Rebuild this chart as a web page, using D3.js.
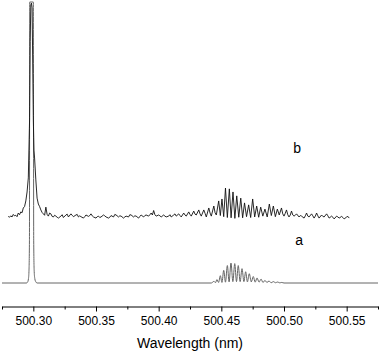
<!doctype html>
<html lang="en">
<head>
    <meta charset="UTF-8">
    <title>Spectrum</title>
    <script src="https://cdnjs.cloudflare.com/ajax/libs/d3/7.8.5/d3.min.js"></script>
    <style>
        html, body {
            margin: 0;
            padding: 0;
            background: #ffffff;
            overflow: hidden;
        }
        svg text {
            font-family: "Liberation Sans", Arial, sans-serif;
        }
    </style>
</head>
<body>
<svg id="chart" width="380" height="353"></svg>
<script>
    // tick labels (nm)
    const majorTicks = [500.30, 500.35, 500.40, 500.45, 500.50, 500.55];
    const minorTicks = [500.275, 500.325, 500.375, 500.425, 500.475, 500.525, 500.575];

    // trace a: [wavelength, intensity]
    const seriesA = [
        [500.2750, 0], [500.2945, 0], [500.2955, 0.4], [500.2961, 1.5], [500.2965, 4],
        [500.2969, 15], [500.2971, 100], [500.3000, 100], [500.3003, 15], [500.3007, 4],
        [500.3012, 1.5], [500.3020, 0.4], [500.3030, 0], [500.4420, 0],
        [500.4442, 0.6], [500.4453, 0.1], [500.4465, 1.2], [500.4478, 0.2], [500.4492, 2.6],
        [500.4505, 0.2], [500.4519, 4.5], [500.4533, 0.3], [500.4548, 6.2], [500.4562, 0.4],
        [500.4577, 7.1], [500.4592, 0.5], [500.4607, 6.9], [500.4621, 0.5], [500.4635, 6.2],
        [500.4650, 0.5], [500.4665, 5.1], [500.4680, 0.5], [500.4694, 4.0], [500.4708, 0.4],
        [500.4723, 3.3], [500.4739, 0.4], [500.4755, 2.3], [500.4770, 0.3], [500.4785, 1.8],
        [500.4801, 0.3], [500.4817, 1.4], [500.4832, 0.2], [500.4848, 0.9], [500.4864, 0.2],
        [500.4880, 0.7], [500.4898, 0.1], [500.4915, 0.5], [500.4932, 0.1], [500.4950, 0.35],
        [500.4966, 0.05], [500.4982, 0.2], [500.5000, 0], [500.5750, 0]
    ];

    // trace b: [wavelength, intensity] (offset above a)
    const seriesB = [
        [500.280, 23.7], [500.281, 23.4], [500.282, 23.9], [500.283, 23.5], [500.284, 24.4],
        [500.285, 23.9], [500.286, 24.1], [500.287, 23.6], [500.288, 24.9], [500.289, 24.3],
        [500.290, 25.3], [500.291, 25.0], [500.292, 26.7], [500.293, 27.2], [500.294, 29.2],
        [500.295, 32.4], [500.296, 37.4], [500.297, 58], [500.2975, 86], [500.298, 99],
        [500.2985, 99.6], [500.299, 97.9], [500.2995, 79], [500.300, 58], [500.3005, 47.3],
        [500.301, 44.5], [500.302, 36.7], [500.303, 30.2], [500.304, 28.1], [500.305, 27.2],
        [500.306, 26.0], [500.307, 25.1], [500.308, 24.6], [500.309, 24.1], [500.310, 27.0],
        [500.311, 24.4], [500.312, 23.8], [500.313, 24.9], [500.314, 24.6], [500.315, 23.7],
        [500.316, 23.5], [500.317, 24.1], [500.318, 23.8], [500.319, 23.4], [500.320, 23.1],
        [500.322, 23.8], [500.323, 24.3], [500.324, 23.3], [500.326, 24.2], [500.327, 24.5],
        [500.328, 23.5], [500.330, 24.6], [500.331, 24.1], [500.332, 23.6], [500.334, 24.2],
        [500.335, 24.4], [500.336, 23.5], [500.337, 23.9], [500.338, 23.6], [500.340, 23.1],
        [500.341, 23.6], [500.342, 24.2], [500.344, 23.7], [500.345, 24.0], [500.346, 24.6],
        [500.347, 23.9], [500.348, 23.5], [500.350, 23.1], [500.351, 23.6], [500.352, 23.8],
        [500.353, 23.3], [500.354, 23.5], [500.356, 24.2], [500.357, 23.9], [500.358, 23.5],
        [500.360, 23.1], [500.361, 23.4], [500.362, 24.0], [500.364, 23.5], [500.365, 24.4],
        [500.366, 24.2], [500.368, 23.5], [500.369, 23.9], [500.370, 23.8], [500.372, 23.1],
        [500.373, 23.5], [500.374, 23.8], [500.376, 23.5], [500.377, 24.3], [500.378, 24.2],
        [500.380, 23.5], [500.381, 23.9], [500.382, 23.8], [500.384, 23.1], [500.385, 23.7],
        [500.386, 24.2], [500.388, 23.5], [500.389, 24.0], [500.390, 24.2], [500.392, 23.8],
        [500.393, 24.3], [500.394, 24.9], [500.395, 24.2], [500.396, 25.8], [500.397, 24.3],
        [500.398, 23.8], [500.400, 24.2], [500.401, 23.9], [500.402, 23.5], [500.404, 24.2],
        [500.405, 23.8], [500.406, 23.5], [500.408, 23.8], [500.409, 24.3], [500.410, 23.5],
        [500.412, 24.2], [500.413, 24.6], [500.414, 23.8], [500.416, 24.6], [500.417, 24.0],
        [500.418, 23.5], [500.420, 24.9], [500.421, 24.2], [500.422, 23.8], [500.424, 25.3],
        [500.425, 24.4], [500.426, 23.8], [500.428, 25.6], [500.429, 24.5], [500.430, 24.2],
        [500.432, 26.0], [500.433, 24.6], [500.434, 23.8], [500.436, 26.0], [500.437, 24.8],
        [500.438, 23.5], [500.440, 26.7], [500.441, 24.9], [500.442, 23.8], [500.444, 27.4],
        [500.445, 25.0], [500.446, 24.2], [500.4479, 29.2], [500.4492, 24.0],
        [500.4505, 29.9], [500.4519, 23.6], [500.4533, 33.8], [500.4548, 23.3], [500.4564, 33.5],
        [500.4578, 23.2], [500.4593, 32.4], [500.4608, 23.0], [500.4623, 31.0], [500.4639, 23.4],
        [500.4655, 30.2], [500.4670, 23.2], [500.4685, 28.5], [500.4701, 23.6], [500.4718, 27.8],
        [500.4734, 23.3], [500.4750, 29.9], [500.4766, 23.5], [500.4782, 27.4], [500.4798, 23.4],
        [500.4814, 27.0], [500.4831, 23.8], [500.4848, 26.3], [500.4866, 23.5], [500.4883, 28.1],
        [500.4899, 24.0], [500.4915, 27.4], [500.4931, 23.6], [500.4947, 26.3], [500.4962, 24.2],
        [500.498, 26.7], [500.499, 24.6], [500.500, 23.8], [500.501, 24.8], [500.502, 26.0],
        [500.503, 24.3], [500.504, 23.5], [500.505, 24.2], [500.506, 25.6], [500.507, 24.2],
        [500.508, 23.8], [500.509, 24.1], [500.510, 24.6], [500.512, 23.5], [500.513, 24.0],
        [500.514, 23.8], [500.516, 23.1], [500.517, 23.9], [500.518, 24.9], [500.519, 23.8],
        [500.520, 23.5], [500.522, 24.6], [500.523, 23.9], [500.524, 23.1], [500.525, 23.8],
        [500.526, 24.9], [500.527, 23.9], [500.528, 23.1], [500.530, 24.2], [500.531, 23.7],
        [500.532, 23.5], [500.534, 24.6], [500.535, 23.9], [500.536, 23.1], [500.538, 23.8],
        [500.539, 23.4], [500.540, 22.8], [500.542, 23.8], [500.543, 23.5], [500.544, 23.1],
        [500.546, 23.7], [500.547, 23.3], [500.548, 22.8], [500.550, 23.5], [500.551, 23.7],
        [500.552, 23.1]
    ];

    // trace labels: [text, wavelength, intensity]
    const traceLabels = [["b", 500.5104, 46.3], ["a", 500.512, 13.5]];

    const svg = d3.select("#chart");

    const x = d3.scaleLinear().domain([500.275, 500.575]).range([2, 378]);
    const y = d3.scaleLinear().domain([0, 100]).range([283, 2]);
    const axisY = 306.5;

    // minor ticks
    svg.append("g")
        .attr("transform", "translate(0," + axisY + ")")
        .call(d3.axisBottom(x).tickValues(minorTicks).tickSize(3).tickSizeOuter(0).tickFormat(""))
        .call(g => g.select(".domain").remove());

    // major ticks + axis line
    const xAxis = svg.append("g")
        .attr("transform", "translate(0," + axisY + ")")
        .call(d3.axisBottom(x).tickValues(majorTicks).tickSize(5).tickSizeOuter(0).tickPadding(5)
            .tickFormat(d3.format(".2f")));
    xAxis.selectAll("text")
        .attr("font-size", 12)
        .attr("font-family", "'Liberation Sans', Arial, sans-serif")
        .attr("fill", "#000");
    xAxis.selectAll("line, path").attr("stroke", "#000");

    svg.append("text")
        .attr("x", 190)
        .attr("y", 348)
        .attr("text-anchor", "middle")
        .attr("font-size", 14)
        .attr("fill", "#000")
        .text("Wavelength (nm)");

    const lineA = d3.line()
        .x(d => x(d[0]))
        .y(d => y(d[1]))
        .curve(d3.curveMonotoneX);

    const lineB = d3.line()
        .x(d => x(d[0]))
        .y(d => y(d[1]));

    svg.append("path")
        .datum(seriesA)
        .attr("fill", "none")
        .attr("stroke", "#666")
        .attr("stroke-width", 1)
        .attr("d", lineA);

    svg.append("path")
        .datum(seriesB)
        .attr("fill", "none")
        .attr("stroke", "#111")
        .attr("stroke-width", 0.9)
        .attr("stroke-linejoin", "round")
        .attr("d", lineB);

    svg.selectAll(".trace-label")
        .data(traceLabels)
        .enter().append("text")
        .attr("class", "trace-label")
        .attr("x", d => x(d[1]))
        .attr("y", d => y(d[2]))
        .attr("text-anchor", "middle")
        .attr("font-size", 14)
        .attr("fill", "#000")
        .text(d => d[0]);
</script>
</body>
</html>
